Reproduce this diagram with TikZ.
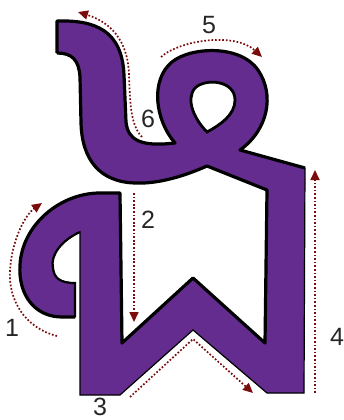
\documentclass[tikz,border=0pt]{standalone}
\usepackage{fontspec}
\setmainfont{Liberation Sans}
\usetikzlibrary{arrows.meta}

\definecolor{glyphpurple}{HTML}{652C8F}
\definecolor{strokered}{HTML}{7A0C0C}

\begin{document}
\begin{tikzpicture}[
  x=1pt, y=-1pt,
  font=\fontsize{25}{25}\selectfont,
  glyph/.style={fill=glyphpurple, draw=black, line width=1.2pt, line join=miter},
  thickedge/.style={draw=black, line width=3.2pt, line join=round},
  midedge/.style={draw=black, line width=2.2pt},
  hole/.style={fill=white, draw=black, line width=2.8pt},
  stroke/.style={draw=strokered, line width=1.7pt, dash pattern=on 1.7pt off 1.9pt,
    -{Triangle[length=10pt,width=9pt]}},
  num/.style={text=black!85, inner sep=0pt}
]
\useasboundingbox (0,0) rectangle (344,420);

% Glyph body
\path[glyph] (57,21) .. controls (95,20) and (122,30) .. (124,75) -- (126,122)
  .. controls (128,140) and (140,147) .. (175,143)
  .. controls (155,120) and (150,80) .. (172,62)
  .. controls (190,47) and (240,44) .. (258,70)
  .. controls (275,95) and (268,130) .. (240,150)
  -- (305,168) -- (304,393) -- (267,393) -- (193,330) -- (120,395) -- (80,395) -- (80,232)
  .. controls (62,240) and (50,255) .. (53,268)
  .. controls (54,278) and (60,283) .. (75,283) -- (75,317) -- (62,317)
  .. controls (35,317) and (18,295) .. (20,265)
  .. controls (22,225) and (60,193) .. (100,193) -- (120,193)
  -- (122,343) -- (193,278) -- (265,343) -- (267,190) -- (207,166)
  .. controls (180,178) and (155,184) .. (135,183)
  .. controls (100,182) and (82,160) .. (81,123) -- (80,77)
  .. controls (79,60) and (72,53) .. (57,53) -- cycle;

% Heavy outline
\draw[thickedge] (57,53) -- (57,21) .. controls (95,20) and (122,30) .. (124,75) -- (126,122)
  .. controls (128,140) and (140,147) .. (175,143)
  .. controls (155,120) and (150,80) .. (172,62)
  .. controls (190,47) and (240,44) .. (258,70)
  .. controls (275,95) and (268,130) .. (240,150) -- (305,168);
\draw[thickedge] (75,317) -- (62,317)
  .. controls (35,317) and (18,295) .. (20,265)
  .. controls (22,225) and (60,193) .. (100,193) -- (120,193)
  -- (122,343) -- (193,278) -- (265,343) -- (267,190) -- (207,166)
  .. controls (180,178) and (155,184) .. (135,183)
  .. controls (100,182) and (82,160) .. (81,123) -- (80,77)
  .. controls (79,60) and (72,53) .. (57,53);
\draw[midedge] (80,232) .. controls (62,240) and (50,255) .. (53,268)
  .. controls (54,278) and (60,283) .. (75,283) -- (75,317);

% Loop hole
\path[hole] (207,132) .. controls (195,120) and (185,100) .. (195,88)
  .. controls (205,78) and (235,80) .. (235,100)
  .. controls (235,115) and (220,125) .. (207,132) -- cycle;

% Stroke order
\draw[stroke] (57,336) .. controls (25,328) and (8,300) .. (10,270)
  .. controls (12,240) and (25,215) .. (42,203);
\draw[stroke] (134,193) -- (134,322);
\draw[stroke] (130,397) -- (193,339) -- (253,393);
\draw[stroke] (315,393) -- (315,170);
\draw[stroke] (161,57) .. controls (180,40) and (235,32) .. (262,57);
\draw[stroke] (142,137) .. controls (130,125) and (130,100) .. (129,75)
  .. controls (128,40) and (110,22) .. (78,12);

% Labels
\node[num] (n1) at (12,328) {1};
\node[num] (n2) at (148,220) {2};
\node[num] (n3) at (100,407) {3};
\node[num] (n4) at (337,337) {4};
\node[num] (n5) at (209,25) {5};
\node[num] (n6) at (148,119) {6};

\end{tikzpicture}
\end{document}
